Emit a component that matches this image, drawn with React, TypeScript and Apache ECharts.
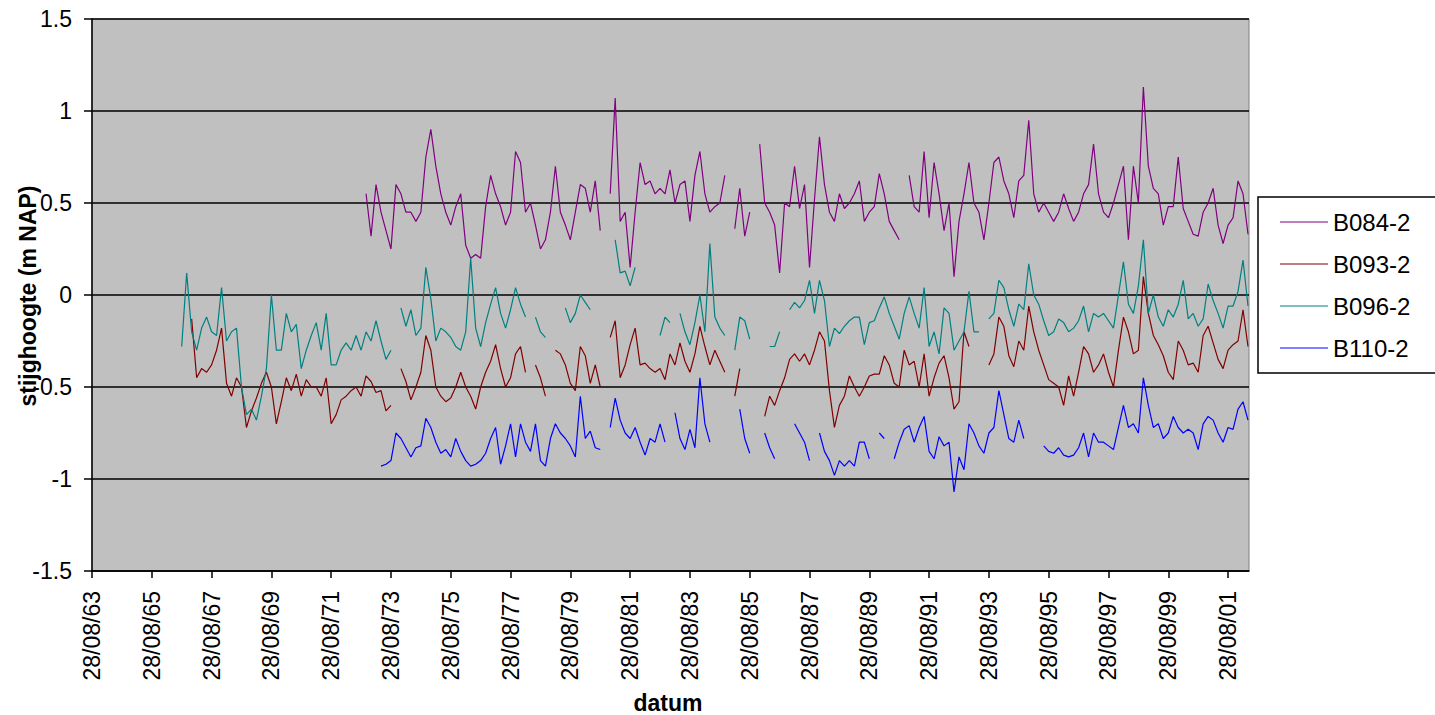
import { useEffect, useRef } from "react";
import * as echarts from "echarts";

// sampling grid: years after 28/08/1963, one reading every two months
const sampleStart = 3;
const sampleStep = 1 / 6;

const seriesNames = ["B084-2", "B093-2", "B096-2", "B110-2"];
const seriesColors = ["#800080", "#800000", "#008080", "#0000ff"];
const firstSample = [37, 0, 0, 40];

const yTicks = [-1.5, -1, -0.5, 0, 0.5, 1, 1.5];
const xTickYears = [63, 65, 67, 69, 71, 73, 75, 77, 79, 81, 83, 85, 87, 89, 91, 93, 95, 97, 99, 1];

const b084 = [
  0.55, 0.32, 0.6,
  0.45, 0.35, 0.25, 0.6, 0.55, 0.45, 0.45, 0.4, 0.45, 0.75,
  0.9, 0.7, 0.55, 0.45, 0.38, 0.48, 0.55, 0.27, 0.2, 0.22,
  0.2, 0.48, 0.65, 0.55, 0.48, 0.38, 0.45, 0.78, 0.72, 0.45,
  0.5, 0.38, 0.25, 0.3, 0.45, 0.7, 0.45, 0.38, 0.3, 0.45,
  0.6, 0.58, 0.45, 0.62, 0.35, null, 0.55, 1.07, 0.4, 0.45,
  0.15, 0.45, 0.72, 0.6, 0.62, 0.55, 0.58, 0.55, 0.68, 0.5,
  0.6, 0.62, 0.4, 0.65, 0.78, 0.55, 0.45, 0.48, 0.5, 0.65,
  null, 0.36, 0.58, 0.32, 0.45, null, 0.82, 0.5, 0.45, 0.38,
  0.12, 0.5, 0.48, 0.7, 0.47, 0.6, 0.15, 0.52, 0.86, 0.6,
  0.45, 0.4, 0.55, 0.47, 0.5, 0.55, 0.62, 0.4, 0.45, 0.48,
  0.66, 0.55, 0.4, 0.35, 0.3, null, 0.65, 0.48, 0.45, 0.78,
  0.42, 0.72, 0.55, 0.35, 0.5, 0.1, 0.4, 0.55, 0.72, 0.5,
  0.45, 0.3, 0.5, 0.72, 0.75, 0.62, 0.55, 0.42, 0.62, 0.65,
  0.95, 0.55, 0.45, 0.5, 0.45, 0.4, 0.45, 0.55, 0.47, 0.4,
  0.45, 0.55, 0.6, 0.82, 0.55, 0.45, 0.42, 0.5, 0.6, 0.7,
  0.3, 0.7, 0.5, 1.13, 0.7, 0.58, 0.55, 0.38, 0.48, 0.48,
  0.75, 0.47, 0.4, 0.33, 0.32, 0.45, 0.5, 0.58, 0.38, 0.28,
  0.38, 0.42, 0.62, 0.55, 0.33,
];

const b093 = [
  null, null, -0.13, -0.45, -0.4, -0.42, -0.38, -0.3, -0.18, -0.48,
  -0.55, -0.45, -0.5, -0.72, -0.63, -0.56, -0.48, -0.42, -0.5, -0.7,
  -0.58, -0.45, -0.52, -0.43, -0.55, -0.46, -0.5, -0.5, -0.55, -0.45,
  -0.7, -0.65, -0.57, -0.55, -0.52, -0.5, -0.55, -0.44, -0.47, -0.53,
  -0.52, -0.63, -0.6, null, -0.4, -0.47, -0.57, -0.5, -0.42, -0.22,
  -0.3, -0.5, -0.55, -0.58, -0.56, -0.5, -0.42, -0.5, -0.55, -0.62,
  -0.5, -0.42, -0.36, -0.27, -0.4, -0.5, -0.45, -0.32, -0.28, -0.42,
  null, -0.38, -0.45, -0.55, null, -0.3, -0.32, -0.38, -0.48, -0.52,
  -0.28, -0.33, -0.48, -0.38, -0.5, null, -0.23, -0.14, -0.45, -0.38,
  -0.27, -0.18, -0.38, -0.37, -0.4, -0.42, -0.4, -0.46, -0.32, -0.38,
  -0.26, -0.36, -0.42, -0.32, -0.17, -0.28, -0.38, -0.3, -0.36, -0.42,
  null, -0.55, -0.4, null, null, null, null, -0.66, -0.55, -0.6,
  -0.52, -0.45, -0.35, -0.32, -0.36, -0.32, -0.38, -0.3, -0.2, -0.25,
  -0.52, -0.72, -0.6, -0.55, -0.44, -0.5, -0.55, -0.5, -0.44, -0.43,
  -0.43, -0.33, -0.38, -0.48, -0.5, -0.3, -0.38, -0.36, -0.5, -0.32,
  -0.55, -0.45, -0.37, -0.33, -0.45, -0.62, -0.58, -0.2, -0.28, null,
  -0.44, null, -0.38, -0.32, -0.12, -0.17, -0.33, -0.39, -0.25, -0.3,
  -0.06, -0.2, -0.3, -0.38, -0.46, -0.48, -0.5, -0.6, -0.44, -0.55,
  -0.42, -0.28, -0.32, -0.42, -0.38, -0.32, -0.42, -0.5, -0.3, -0.12,
  -0.2, -0.32, -0.3, 0.1, -0.1, -0.22, -0.27, -0.33, -0.42, -0.46,
  -0.25, -0.3, -0.38, -0.37, -0.42, -0.22, -0.17, -0.26, -0.35, -0.4,
  -0.3, -0.27, -0.25, -0.08, -0.28,
];

const b096 = [
  -0.28, 0.12, -0.2, -0.3, -0.18, -0.12, -0.2, -0.22, 0.04, -0.25,
  -0.2, -0.18, -0.5, -0.65, -0.62, -0.68, -0.55, -0.4, 0.0, -0.3,
  -0.3, -0.1, -0.2, -0.16, -0.4, -0.3, -0.22, -0.15, -0.3, -0.1,
  -0.38, -0.38, -0.3, -0.26, -0.3, -0.22, -0.3, -0.2, -0.25, -0.14,
  -0.25, -0.35, -0.3, null, -0.07, -0.17, -0.08, -0.22, -0.18, 0.15,
  -0.02, -0.25, -0.18, -0.2, -0.23, -0.28, -0.3, -0.2, 0.2, -0.18,
  -0.28, -0.15, -0.05, 0.04, -0.1, -0.18, -0.08, 0.04, -0.05, -0.12,
  null, -0.12, -0.2, -0.23, null, null, null, -0.07, -0.15, -0.1,
  0.0, -0.04, -0.08, null, null, null, null, 0.3, 0.12, 0.13,
  0.05, 0.15, null, null, null, null, -0.22, -0.12, -0.15, null,
  -0.1, -0.2, -0.27, -0.15, 0.0, -0.2, 0.28, -0.12, -0.18, -0.22,
  null, -0.3, -0.12, -0.14, -0.24, null, -0.1, null, -0.28, -0.28,
  -0.2, null, -0.08, -0.04, -0.07, -0.03, 0.08, -0.1, 0.08, -0.03,
  -0.28, -0.18, -0.21, -0.17, -0.14, -0.12, -0.12, -0.27, -0.15, -0.14,
  -0.07, -0.01, -0.1, -0.17, -0.24, -0.1, -0.01, -0.1, -0.18, 0.04,
  -0.28, -0.2, -0.32, -0.07, -0.1, -0.3, -0.25, -0.2, 0.02, -0.2,
  -0.2, null, -0.13, -0.1, 0.08, 0.04, -0.08, -0.17, -0.05, -0.08,
  0.17, 0.0, -0.05, -0.14, -0.22, -0.2, -0.13, -0.15, -0.2, -0.18,
  -0.14, -0.06, -0.2, -0.1, -0.12, -0.1, -0.14, -0.18, 0.0, 0.18,
  -0.05, -0.1, 0.05, 0.3, -0.1, 0.0, -0.12, -0.17, -0.08, -0.12,
  -0.05, 0.08, -0.13, -0.1, -0.17, -0.13, 0.06, -0.03, -0.1, -0.18,
  -0.06, -0.06, 0.02, 0.19, -0.06,
];

const b110 = [
  -0.93, -0.92, -0.9, -0.75, -0.78, -0.83, -0.88, -0.83, -0.82, -0.67,
  -0.72, -0.8, -0.86, -0.84, -0.88, -0.78, -0.85, -0.9, -0.93, -0.92,
  -0.9, -0.86, -0.78, -0.72, -0.92, -0.82, -0.7, -0.88, -0.7, -0.8,
  -0.85, -0.7, -0.9, -0.93, -0.78, -0.7, -0.75, -0.78, -0.82, -0.88,
  -0.55, -0.78, -0.74, -0.83, -0.84, null, -0.72, -0.56, -0.68, -0.75,
  -0.78, -0.72, -0.8, -0.87, -0.78, -0.8, -0.7, -0.8, null, -0.64,
  -0.78, -0.84, -0.73, -0.83, -0.45, -0.7, -0.8, null, null, null,
  null, null, -0.62, -0.78, -0.86, null, null, -0.75, -0.83, -0.89,
  null, null, null, -0.7, -0.75, -0.8, -0.9, null, -0.75, -0.85,
  -0.9, -0.98, -0.9, -0.93, -0.9, -0.93, -0.8, -0.8, -0.89, null,
  -0.75, -0.78, null, -0.89, -0.8, -0.73, -0.71, -0.8, -0.72, -0.66,
  -0.85, -0.89, -0.77, -0.82, -0.8, -1.07, -0.88, -0.95, -0.7, -0.75,
  -0.82, -0.86, -0.75, -0.72, -0.52, -0.65, -0.78, -0.8, -0.68, -0.78,
  null, -0.62, null, -0.82, -0.85, -0.86, -0.83, -0.87, -0.88, -0.87,
  -0.83, -0.75, -0.88, -0.75, -0.8, -0.8, -0.82, -0.84, -0.72, -0.6,
  -0.72, -0.7, -0.75, -0.45, -0.6, -0.72, -0.7, -0.78, -0.75, -0.66,
  -0.72, -0.75, -0.73, -0.75, -0.84, -0.7, -0.66, -0.68, -0.75, -0.8,
  -0.72, -0.73, -0.62, -0.58, -0.68,
];

const seriesValues = [b084, b093, b096, b110];

const FONT = "'Liberation Sans', Arial, Helvetica, sans-serif";

export default function App() {
  const ref = useRef<HTMLDivElement>(null);

  useEffect(() => {
    if (!ref.current) return;
    const chart = echarts.init(ref.current, undefined, { renderer: "svg" });

    const series = seriesNames.map((name, s) => ({
      name,
      type: "line",
      symbol: "none",
      showSymbol: false,
      connectNulls: false,
      color: seriesColors[s],
      lineStyle: { color: seriesColors[s], width: 1.2 },
      data: seriesValues[s].map((v, i) => [
        sampleStart + (firstSample[s] + i) * sampleStep,
        v === null ? "-" : v,
      ]),
    }));

    chart.setOption({
      animation: false,
      backgroundColor: "#ffffff",
      grid: {
        left: 92,
        top: 19,
        right: 186,
        bottom: 144,
        show: true,
        backgroundColor: "#c0c0c0",
        borderColor: "#808080",
        borderWidth: 1,
      },
      xAxis: {
        type: "value",
        min: 0,
        max: 38.7,
        interval: 2,
        axisLine: { show: true, onZero: false, lineStyle: { color: "#000", width: 1.5 } },
        axisTick: { show: true, inside: false, length: 7, lineStyle: { color: "#000", width: 1.5 } },
        splitLine: { show: false },
        axisLabel: {
          rotate: 90,
          margin: 20,
          color: "#000",
          fontSize: 23,
          fontFamily: FONT,
          formatter: (v: number) => {
            const idx = Math.round(v / 2);
            const yy = xTickYears[idx];
            if (yy === undefined) return "";
            return "28/08/" + String(yy).padStart(2, "0");
          },
        },
      },
      yAxis: {
        type: "value",
        min: yTicks[0],
        max: yTicks[yTicks.length - 1],
        interval: 0.5,
        axisLine: { show: true, onZero: false, lineStyle: { color: "#000", width: 1.5 } },
        axisTick: { show: true, inside: false, length: 8, lineStyle: { color: "#000", width: 1.5 } },
        splitLine: { show: true, lineStyle: { color: "#000", width: 1.5 } },
        axisLabel: {
          margin: 20,
          color: "#000",
          fontSize: 23,
          fontFamily: FONT,
          formatter: (v: number) => String(v),
        },
      },
      legend: {
        orient: "vertical",
        left: 1258,
        top: 197,
        padding: [13, 30, 13, 22],
        itemGap: 18,
        itemWidth: 48,
        itemHeight: 14,
        borderColor: "#000",
        borderWidth: 1.5,
        backgroundColor: "#ffffff",
        textStyle: { color: "#000", fontSize: 24, fontFamily: FONT },
        data: seriesNames.map((n) => ({ name: n, icon: "path://M0,7 L48,7 L48,8 L0,8 Z" })),
      },
      graphic: [
        {
          type: "text",
          x: 28,
          y: 296,
          rotation: Math.PI / 2,
          style: {
            text: "stijghoogte (m NAP)",
            font: `bold 23px ${FONT}`,
            fill: "#000",
            align: "center",
            verticalAlign: "middle",
          },
        },
        {
          type: "text",
          x: 668,
          y: 703,
          style: {
            text: "datum",
            font: `bold 23px ${FONT}`,
            fill: "#000",
            align: "center",
            verticalAlign: "middle",
          },
        },
      ],
      series,
    });

    return () => chart.dispose();
  }, []);

  return (
    <div
      ref={ref}
      style={{ position: "absolute", left: 0, top: 0, width: 1435, height: 715, background: "#fff" }}
    />
  );
}
